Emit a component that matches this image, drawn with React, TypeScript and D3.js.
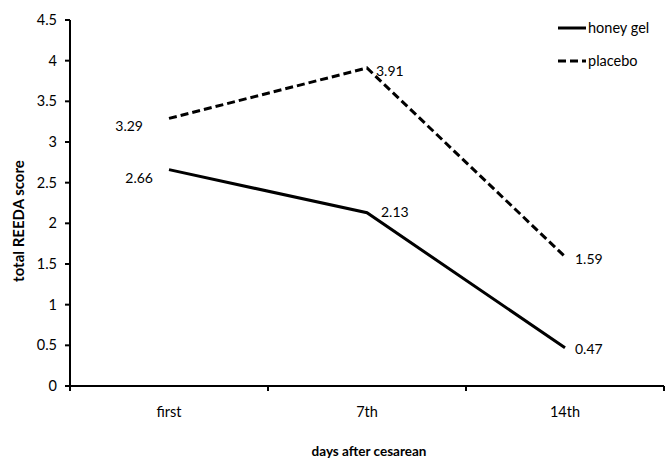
import React from "react";
import * as d3 from "d3";

const categories = ["first", "7th", "14th"];
const honeyGel = [2.66, 2.13, 0.47];
const placebo = [3.29, 3.91, 1.59];
const yTicks = [0, 0.5, 1, 1.5, 2, 2.5, 3, 3.5, 4, 4.5];
const seriesNames = ["honey gel", "placebo"];

const W = 665;
const H = 464;
const left = 70;
const right = 664;
const top = 20;
const bottom = 386;
const FONT = "Lato, 'Open Sans', sans-serif";

export default function App() {
  const x = d3.scaleBand<string>().domain(categories).range([left, right]);
  const y = d3.scaleLinear().domain([0, 4.5]).range([bottom, top]);
  const cx = (c: string) => (x(c) as number) + x.bandwidth() / 2;
  const line = d3
    .line<number>()
    .x((_, i) => cx(categories[i]))
    .y((d) => y(d));

  const series = [
    { name: seriesNames[0], values: honeyGel, dash: undefined as string | undefined, labelSide: ["left", "right", "right"] },
    { name: seriesNames[1], values: placebo, dash: "8,4", labelSide: ["left", "right", "right"] },
  ];
  const labelDx = [
    [-16, 14, 10],
    [-26, 9, 10],
  ];
  const labelDy = [
    [8, -1, 1],
    [8, 3, 2],
  ];

  const boundaries = [...categories.map((c) => x(c) as number), right];

  return (
    <svg
      width={W}
      height={H}
      style={{ position: "absolute", left: 0, top: 0, background: "#fff" }}
      fontFamily={FONT}
    >
      <rect width={W} height={H} fill="#fff" />
      <line x1={left} x2={left} y1={top} y2={bottom} stroke="#000" strokeWidth={2} />
      {yTicks.map((t) => (
        <g key={t}>
          <line x1={left - 5} x2={left} y1={y(t)} y2={y(t)} stroke="#000" strokeWidth={2} />
          <text x={left - 13} y={y(t)} dy="0.35em" textAnchor="end" fontSize={14.5} fill="#000">
            {t}
          </text>
        </g>
      ))}
      <line x1={left - 5} x2={right} y1={bottom} y2={bottom} stroke="#000" strokeWidth={2} />
      {boundaries.map((b, i) => (
        <line key={i} x1={b} x2={b} y1={bottom} y2={bottom + 5} stroke="#000" strokeWidth={2} />
      ))}
      {categories.map((c) => (
        <text key={c} x={cx(c)} y={412} dy="0.35em" textAnchor="middle" fontSize={14.5} fill="#000">
          {c}
        </text>
      ))}
      <text x={369} y={451} dy="0.35em" textAnchor="middle" fontSize={13.5} fontWeight="bold" fill="#000">
        days after cesarean
      </text>
      <text
        transform={`translate(19,221) rotate(-90)`}
        dy="0.35em"
        textAnchor="middle"
        fontSize={15}
        fontWeight="bold"
        fill="#000"
      >
        total REEDA score
      </text>
      {series.map((s, si) => (
        <g key={s.name}>
          <path d={line(s.values) || ""} fill="none" stroke="#000" strokeWidth={3} strokeDasharray={s.dash} />
          {s.values.map((v, i) => (
            <text
              key={i}
              x={cx(categories[i]) + labelDx[si][i]}
              y={y(v) + labelDy[si][i]}
              dy="0.35em"
              textAnchor={s.labelSide[i] === "left" ? "end" : "start"}
              fontSize={14}
              fill="#000"
            >
              {v.toFixed(2)}
            </text>
          ))}
        </g>
      ))}
      {series.map((s, si) => (
        <g key={s.name} transform={`translate(558,${28 + si * 33})`}>
          <line x1={0} x2={28} y1={0} y2={0} stroke="#000" strokeWidth={3} strokeDasharray={s.dash} />
          <text x={30} y={0} dy="0.35em" fontSize={14.5} fill="#000">
            {s.name}
          </text>
        </g>
      ))}
    </svg>
  );
}
